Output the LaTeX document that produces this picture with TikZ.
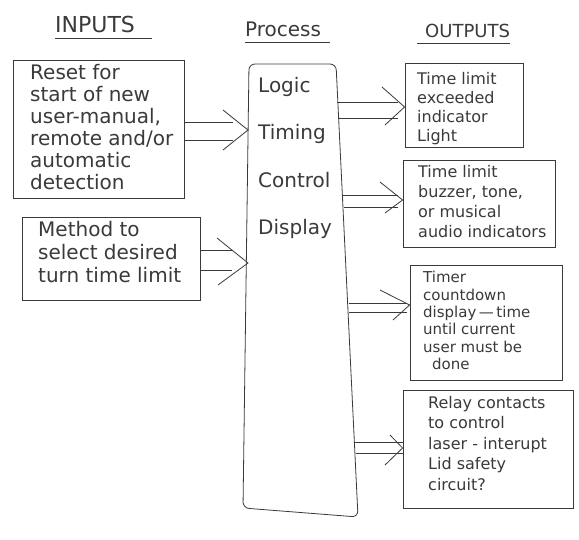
\documentclass[tikz,border=0pt]{standalone}
\usepackage{fontspec}
\setmainfont{DejaVu Sans}
\usetikzlibrary{calc}
\definecolor{pencil}{HTML}{3A3A3A}
\begin{document}
\begin{tikzpicture}[x=1pt,y=-1pt,
  box/.style={draw=pencil, line width=0.8pt, inner sep=0pt},
  conn/.style={draw=pencil, line width=0.8pt},
  bigtxt/.style={font=\fontsize{20}{22}\selectfont, text=pencil, anchor=base west, inner sep=0pt},
  smalltxt/.style={font=\fontsize{16}{18}\selectfont, text=pencil, anchor=base west, inner sep=0pt},
  tinytxt/.style={font=\fontsize{15}{17}\selectfont, text=pencil, anchor=base west, inner sep=0pt},
  titletxt/.style={text=pencil, anchor=base west, inner sep=0pt}]
\fill[white] (0,0) rectangle (579,540);
\useasboundingbox (0,0) rectangle (579,540);

% titles
\node[titletxt, font=\fontsize{22}{24}\selectfont] (tin) at (55,33) {INPUTS};
\draw[conn] (55,38) coordinate (uin1) -- (152,38) coordinate (uin2);
\node[titletxt, font=\fontsize{20}{22}\selectfont] (tproc) at (245,37) {Process};
\draw[conn] (245,42) coordinate (upr1) -- (330,42) coordinate (upr2);
\node[titletxt, font=\fontsize{18}{20}\selectfont] (tout) at (425,38) {OUTPUTS};
\draw[conn] (417,43) coordinate (uou1) -- (510,43) coordinate (uou2);

% input boxes
\node[box, minimum width=171, minimum height=138] (in1) at (98.5,129) {};
\node[box, minimum width=178, minimum height=83] (in2) at (111,258.5) {};
\foreach \t [count=\i] in {Reset for, start of new, {user-manual,}, remote and/or, automatic, detection}
  \node[bigtxt] (inA\i) at (30,{80+22*(\i-1)}) {\t};
\foreach \t [count=\i] in {Method to, select desired, turn time limit}
  \node[bigtxt] (inB\i) at (38,{237+23*(\i-1)}) {\t};

% process box
\path (249,64) coordinate (pTL) (336,64) coordinate (pTR)
      (358,517) coordinate (pBR) (243,508) coordinate (pBL);
\draw[conn, rounded corners=6] (pTL) -- (pTR) -- (pBR) -- (pBL) -- cycle;
\node[bigtxt] (pL) at (258,93) {Logic};
\node[bigtxt] (pT) at (258,140) {Timing};
\node[bigtxt] (pC) at (258,188) {Control};
\node[bigtxt] (pD) at (258,235) {Display};

% output boxes
\node[box, minimum width=118, minimum height=84] (out1) at (464,105) {};
\node[box, minimum width=152, minimum height=87] (out2) at (479,203.5) {};
\node[box, minimum width=152, minimum height=115] (out3) at (486,322.5) {};
\node[box, minimum width=170, minimum height=118] (out4) at (488,449) {};
\foreach \t [count=\i] in {Time limit, exceeded, indicator, Light}
  \node[smalltxt] (oA\i) at (417,{85+19*(\i-1)}) {\t};
\foreach \t [count=\i] in {Time limit, {buzzer, tone,}, or musical, audio indicators}
  \node[smalltxt] (oB\i) at (418,{178+20*(\i-1)}) {\t};
\foreach \t [count=\i] in {Timer, countdown, display\,—\,time, until current, user must be}
  \node[tinytxt] (oC\i) at (423,{283+17.3*(\i-1)}) {\t};
\node[tinytxt] (oC6) at (432,370) {done};
\foreach \t [count=\i] in {Relay contacts, to control, laser - interupt, Lid safety, circuit?}
  \node[smalltxt] (oD\i) at (428,{408+20.5*(\i-1)}) {\t};

% arrow tips and line ends (named coordinates)
\coordinate (t1) at (248,130); \coordinate (e1a) at (233,122); \coordinate (e1b) at (233,140);
\coordinate (t2) at (248,263); \coordinate (e2a) at (232,250); \coordinate (e2b) at (232,270);
\coordinate (s3a) at (337,102); \coordinate (s3b) at (338,118);
\coordinate (s4a) at (343,195); \coordinate (s4b) at (344,207);
\coordinate (s5a) at (349,303); \coordinate (s5b) at (349,312);
\coordinate (s6a) at (355,442); \coordinate (s6b) at (356,453);

% input arrows
\draw[conn] (in1.east |- e1a) -- (e1a);
\draw[conn] (in1.east |- e1b) -- (e1b);
\draw[conn] (223,110) -- (t1) -- (223,150);
\draw[conn] (in2.east |- e2a) -- (e2a);
\draw[conn] (in2.east |- e2b) -- (e2b);
\draw[conn] (217,238) -- (t2) -- (218,285);

% output arrows
\draw[conn] (s3a) -- (398,102);
\draw[conn] (s3b) -- (398,118);
\draw[conn] (382,87) -- (out1.west |- 0,107) -- (385,125);

\draw[conn] (s4a) -- (398,195);
\draw[conn] (s4b) -- (398,207);
\draw[conn] (380,182) -- (out2.west |- 0,200) -- (385,213);

\draw[conn] (s5a) -- (407,303);
\draw[conn] (s5b) -- (407,312);
\draw[conn] (380,290) -- (out3.west |- 0,305) -- (393,320);

\draw[conn] (s6a) -- (403,442);
\draw[conn] (s6b) -- (403,453);
\draw[conn] (390,435) -- (out4.west |- 0,448) -- (385,465);
\end{tikzpicture}
\end{document}
